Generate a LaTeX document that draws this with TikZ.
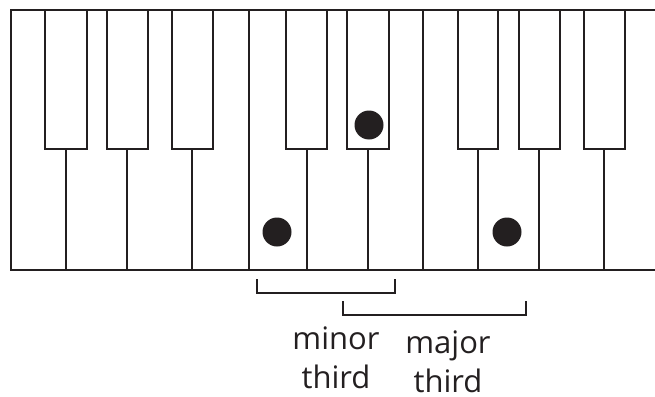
\documentclass[tikz,border=0pt]{standalone}
\usepackage{fontspec}
\setmainfont{Open Sans}
\usetikzlibrary{positioning}
\definecolor{keyink}{RGB}{35,31,32}
\tikzset{
  key edge/.style={line width=2.9pt,draw=keyink},
  black key/.style={line width=2.6pt,draw=keyink,fill=white},
  note dot/.style={
    circle,
    fill=keyink,
    minimum size=29pt,
    inner sep=0pt
  },
  interval bracket/.style={line width=2.6pt,draw=keyink},
  interval label/.style={
    font=\fontsize{31}{39}\selectfont,
    text=keyink,
    align=center,
    text depth=0pt,
    inner sep=0pt
  }
}
\newcommand{\blackkey}[2]{%
  \draw[black key] (#1,10) rectangle (#2,149);%
}

\begin{document}
\begin{tikzpicture}[x=1pt,y=-1pt]
  \useasboundingbox (0,0) rectangle (655,396);
  % white keys
  \draw[key edge] (655,10) -- (11,10) -- (11,270) -- (655,270);
  \foreach \x in {66,127,192,249,307,368,423,478,539,604}
    \draw[key edge,line width=2.6pt] (\x,10) -- (\x,270);
  % black keys
  \blackkey{45}{87}
  \blackkey{107}{148}
  \blackkey{172}{213}
  \blackkey{286}{327}
  \blackkey{347}{389}
  \blackkey{458}{498}
  \blackkey{519}{560}
  \blackkey{584}{625}

  \node[note dot] (root) at (277,232) {};
  \node[note dot] (flat) at (369,125) {};
  \node[note dot] (fifth) at (507,232) {};

  % brackets
  \coordinate (minor a) at (257,279);
  \coordinate (minor b) at (395,279);
  \coordinate (major a) at (343,301);
  \coordinate (major b) at (526,301);
  \draw[interval bracket] (minor a) -- ++(0,14) -| (minor b);
  \draw[interval bracket] (major a) -- ++(0,14) -| (major b);

  \node[interval label,anchor=base] (minor text) at (336,388) {minor\\third};
  \node[interval label,anchor=base] (major text) at (448,392) {major\\third};
\end{tikzpicture}
\end{document}
